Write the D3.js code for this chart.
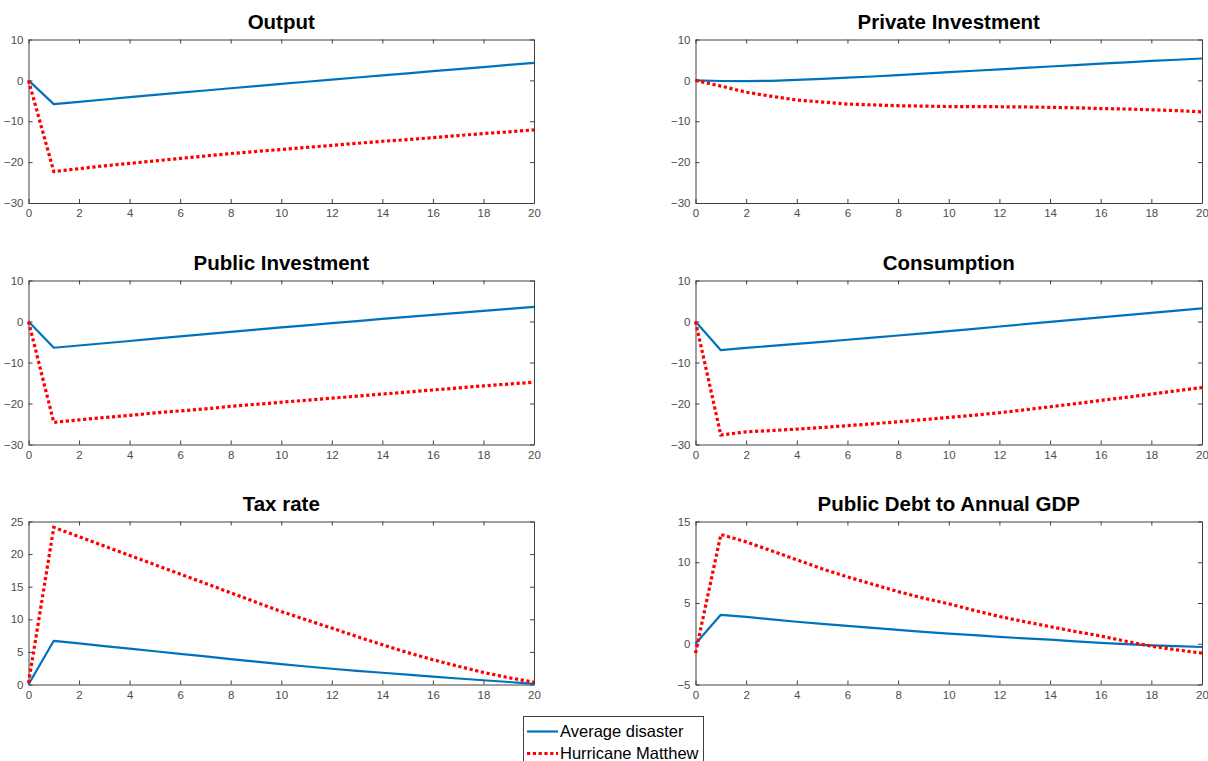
<!DOCTYPE html>
<html>
<head>
<meta charset="utf-8">
<script src="https://cdn.jsdelivr.net/npm/d3@7"></script>
<style>
  html, body { margin: 0; padding: 0; background: #fff; }
  svg { display: block; font-family: "Liberation Sans", Arial, Helvetica, sans-serif; }
</style>
</head>
<body>
<svg id="chart" width="1208" height="761"></svg>
<script>
// ---- Data ----
const quarters = d3.range(0, 21);
const titles = ["Output", "Private Investment", "Public Investment", "Consumption", "Tax rate", "Public Debt to Annual GDP"];
const seriesNames = ["Average disaster", "Hurricane Matthew"];

const outputAvg = [0, -5.8, -5.24, -4.68, -4.12, -3.57, -3.02, -2.47, -1.93, -1.39, -0.85, -0.33, 0.19, 0.71, 1.22, 1.73, 2.24, 2.75, 3.26, 3.78, 4.3];
const outputMatthew = [0, -22.3, -21.6, -20.9, -20.3, -19.7, -19.1, -18.5, -17.9, -17.4, -16.9, -16.4, -15.9, -15.4, -14.9, -14.5, -14.0, -13.5, -13.0, -12.6, -12.1];

const privInvAvg = [0, -0.15, -0.2, -0.1, 0.1, 0.35, 0.65, 0.95, 1.3, 1.65, 2.0, 2.35, 2.7, 3.05, 3.4, 3.75, 4.1, 4.4, 4.75, 5.05, 5.35];
const privInvMatthew = [0, -1.4, -2.9, -3.9, -4.8, -5.3, -5.8, -6.0, -6.2, -6.3, -6.4, -6.4, -6.45, -6.5, -6.6, -6.7, -6.9, -7.0, -7.2, -7.4, -7.7];

const pubInvAvg = [0, -6.4, -5.85, -5.3, -4.75, -4.2, -3.65, -3.1, -2.55, -2.0, -1.45, -0.93, -0.41, 0.11, 0.62, 1.12, 1.61, 2.1, 2.59, 3.07, 3.55];
const pubInvMatthew = [0, -24.6, -24.0, -23.4, -22.9, -22.3, -21.8, -21.3, -20.7, -20.2, -19.7, -19.2, -18.7, -18.2, -17.7, -17.2, -16.7, -16.2, -15.7, -15.25, -14.8];

const consAvg = [0, -7.0, -6.45, -5.95, -5.45, -4.95, -4.45, -3.95, -3.42, -2.88, -2.33, -1.78, -1.22, -0.66, -0.1, 0.46, 1.02, 1.57, 2.12, 2.66, 3.2];
const consMatthew = [0, -27.7, -26.9, -26.6, -26.25, -25.85, -25.4, -24.95, -24.45, -23.95, -23.4, -22.85, -22.25, -21.55, -20.8, -20.05, -19.25, -18.5, -17.7, -16.9, -16.1];

const taxAvg = [0, 6.7, 6.3, 5.9, 5.5, 5.1, 4.7, 4.3, 3.9, 3.5, 3.12, 2.76, 2.42, 2.1, 1.8, 1.5, 1.2, 0.92, 0.65, 0.38, 0.1];
const taxMatthew = [0.2, 24.1, 22.67, 21.23, 19.8, 18.37, 16.93, 15.5, 14.07, 12.63, 11.2, 9.9, 8.65, 7.35, 6.1, 4.9, 3.8, 2.8, 1.85, 1.05, 0.35];

const debtAvg = [0, 3.55, 3.3, 3.0, 2.7, 2.45, 2.2, 1.95, 1.7, 1.45, 1.25, 1.05, 0.85, 0.65, 0.5, 0.3, 0.1, -0.05, -0.2, -0.3, -0.4];
const debtMatthew = [-1.15, 13.4, 12.5, 11.4, 10.3, 9.2, 8.2, 7.3, 6.4, 5.6, 4.9, 4.1, 3.35, 2.7, 2.1, 1.5, 0.95, 0.3, -0.3, -0.75, -1.15];

const xTicks = [0, 2, 4, 6, 8, 10, 12, 14, 16, 18, 20];
const yTicksStd = [-30, -20, -10, 0, 10];
const yTicksTax = [0, 5, 10, 15, 20, 25];
const yTicksDebt = [-5, 0, 5, 10, 15];

const yDomains = [[-30, 10], [-30, 10], [-30, 10], [-30, 10], [0, 25], [-5, 15]];
const yTickSets = [yTicksStd, yTicksStd, yTicksStd, yTicksStd, yTicksTax, yTicksDebt];
const avgSeries = [outputAvg, privInvAvg, pubInvAvg, consAvg, taxAvg, debtAvg];
const matthewSeries = [outputMatthew, privInvMatthew, pubInvMatthew, consMatthew, taxMatthew, debtMatthew];

// ---- Layout ----
const colX = [[28.5, 534], [695.5, 1202]];
const rowY = [[39.5, 203], [280.5, 444.5], [521.5, 684.5]];
const blue = "#0072BD";
const red = "#FF0000";
const axisColor = "#404040";
const labelColor = "#4d4d4d";

const svg = d3.select("#chart");

titles.forEach((title, i) => {
  const col = i % 2, row = Math.floor(i / 2);
  const [x0, x1] = colX[col];
  const [y0, y1] = rowY[row];
  const x = d3.scaleLinear().domain([0, 20]).range([x0, x1]);
  const y = d3.scaleLinear().domain(yDomains[i]).range([y1, y0]);
  const g = svg.append("g");

  const bx = g.append("g").attr("transform", `translate(0,${y1})`)
    .call(d3.axisBottom(x).tickValues(xTicks).tickSize(-4).tickSizeOuter(0).tickPadding(6).tickFormat(d3.format("d")));
  const tx = g.append("g").attr("transform", `translate(0,${y0})`)
    .call(d3.axisTop(x).tickValues(xTicks).tickSize(-4).tickSizeOuter(0).tickFormat(""));
  const ly = g.append("g").attr("transform", `translate(${x0},0)`)
    .call(d3.axisLeft(y).tickValues(yTickSets[i]).tickSize(-4).tickSizeOuter(0).tickPadding(5).tickFormat(d3.format("d")));
  const ry = g.append("g").attr("transform", `translate(${x1},0)`)
    .call(d3.axisRight(y).tickValues(yTickSets[i]).tickSize(-4).tickSizeOuter(0).tickFormat(""));

  [bx, tx, ly, ry].forEach(a => {
    a.selectAll("path.domain").attr("stroke", axisColor).attr("stroke-width", 1);
    a.selectAll(".tick line").attr("stroke", axisColor).attr("stroke-width", 1);
    a.selectAll(".tick text").attr("fill", labelColor).style("font-size", "11.5px")
      .style("font-family", "'Liberation Sans', Arial, sans-serif");
  });

  const line = d3.line().x((d, k) => x(quarters[k])).y(d => y(d));
  g.append("path").datum(avgSeries[i])
    .attr("fill", "none").attr("stroke", blue).attr("stroke-width", 2.2)
    .attr("stroke-linejoin", "round").attr("d", line);
  g.append("path").datum(matthewSeries[i])
    .attr("fill", "none").attr("stroke", red).attr("stroke-width", 3.2)
    .attr("stroke-dasharray", "3.2,2.6").attr("d", line);

  g.append("text")
    .attr("x", (x0 + x1) / 2).attr("y", y0 - 10.5)
    .attr("text-anchor", "middle")
    .style("font-size", "20.5px").style("font-weight", "bold").attr("fill", "#000")
    .text(title);
});

// ---- Legend ----
const lg = svg.append("g");
lg.append("rect").attr("x", 523.5).attr("y", 716.5).attr("width", 180).attr("height", 50)
  .attr("fill", "#fff").attr("stroke", axisColor).attr("stroke-width", 1);
const legendRows = [
  { name: seriesNames[0], color: blue, width: 2.2, dash: null, y: 731.5 },
  { name: seriesNames[1], color: red, width: 3.2, dash: "3.2,2.6", y: 753.5 }
];
legendRows.forEach(r => {
  lg.append("line").attr("x1", 527).attr("x2", 558).attr("y1", r.y).attr("y2", r.y)
    .attr("stroke", r.color).attr("stroke-width", r.width)
    .attr("stroke-dasharray", r.dash);
  lg.append("text").attr("x", 560).attr("y", r.y).attr("dy", "0.36em")
    .style("font-size", "16.5px").attr("fill", "#000").text(r.name);
});
</script>
</body>
</html>
